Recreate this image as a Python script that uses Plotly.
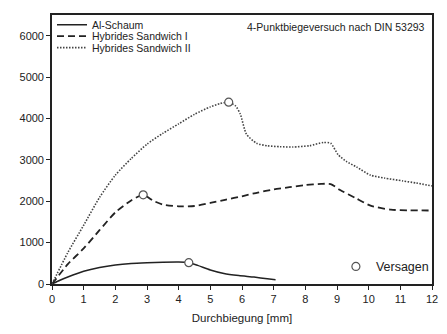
import plotly.graph_objects as go

# Al-Schaum (solid)
x_al = [0, 0.25, 0.5, 1.0, 1.5, 2.0, 2.5, 3.0, 3.5, 4.0, 4.32, 4.6, 5.0, 5.43, 5.9, 6.38, 6.8, 7.06]
y_al = [0, 90, 170, 310, 400, 460, 495, 512, 525, 530, 515, 450, 340, 255, 205, 167, 125, 103]

# Hybrides Sandwich I (dashed)
x_s1 = [0, 0.5, 1.0, 1.5, 2.0, 2.5, 2.88, 3.2, 3.5, 4.0, 4.5, 5.0, 5.5, 6.0, 6.5, 7.0, 7.5, 8.0, 8.5, 8.8, 9.1, 9.6, 10.06, 10.7, 11.3, 12.0]
y_s1 = [0, 480, 860, 1300, 1730, 2020, 2154, 2010, 1920, 1878, 1885, 1960, 2040, 2120, 2210, 2285, 2340, 2390, 2420, 2415, 2270, 2070, 1893, 1795, 1780, 1775]

# Hybrides Sandwich II (dotted)
x_s2 = [0, 0.5, 1.0, 1.5, 2.0, 2.5, 3.0, 3.5, 4.0, 4.5, 5.0, 5.3, 5.58, 5.8, 5.95, 6.14, 6.46, 6.8, 7.2, 7.6, 8.14, 8.57, 8.8, 9.04, 9.3, 9.62, 10.06, 10.5, 11.08, 11.5, 12.0]
y_s2 = [0, 760, 1420, 2090, 2630, 3030, 3380, 3640, 3870, 4100, 4280, 4360, 4394, 4300, 4100, 3620, 3400, 3340, 3318, 3310, 3342, 3420, 3400, 3120, 2960, 2826, 2630, 2560, 2490, 2440, 2370]

# Failure points (Versagen)
fail_x = [4.32, 2.88, 5.58]
fail_y = [515, 2154, 4394]

x_ticks = list(range(0, 13))
y_ticks = [0, 1000, 2000, 3000, 4000, 5000, 6000]

font_family = "Arial, Liberation Sans, sans-serif"
dark = "#222222"

fig = go.Figure()
fig.add_trace(go.Scatter(x=x_al, y=y_al, mode="lines", name="Al-Schaum", legend="legend",
                         line=dict(color=dark, width=1.5, shape="spline", smoothing=0.6)))
fig.add_trace(go.Scatter(x=x_s1, y=y_s1, mode="lines", name="Hybrides Sandwich I", legend="legend3",
                         line=dict(color=dark, width=1.8, dash="7px,4px", shape="spline", smoothing=0.6)))
fig.add_trace(go.Scatter(x=x_s2, y=y_s2, mode="lines", name="Hybrides Sandwich II", legend="legend4",
                         line=dict(color="#444444", width=1.6, dash="1.5px,1.5px", shape="spline", smoothing=0.6)))
fig.add_trace(go.Scatter(x=fail_x, y=fail_y, mode="markers", name="Versagen",
                         legend="legend2",
                         marker=dict(symbol="circle", size=8, color="white",
                                     line=dict(color="#555555", width=1.2))))

leg_font = dict(size=10.5, color="#222222")
fig.update_layout(
    width=439, height=326,
    margin=dict(l=44, r=15, t=2, b=50),
    paper_bgcolor="white", plot_bgcolor="white",
    font=dict(family=font_family, size=11, color="#222222"),
    showlegend=True,
    legend=dict(x=0.0, y=1.018, xanchor="left", yanchor="top",
                bgcolor="rgba(0,0,0,0)", font=leg_font),
    legend3=dict(x=0.0, y=0.9755, xanchor="left", yanchor="top",
                 bgcolor="rgba(0,0,0,0)", font=leg_font),
    legend4=dict(x=0.0, y=0.9328, xanchor="left", yanchor="top",
                 bgcolor="rgba(0,0,0,0)", font=leg_font),
    legend2=dict(x=1.005, y=0.008, xanchor="right", yanchor="bottom",
                 bgcolor="rgba(0,0,0,0)", font=dict(size=12.5, color="#222222")),
    xaxis=dict(range=[0, 12], tickvals=x_ticks, ticktext=[str(v) for v in x_ticks],
               ticks="outside", ticklen=4, tickcolor=dark, tickwidth=1.2,
               showline=True, linecolor=dark, linewidth=1.6, mirror=True,
               showgrid=False, zeroline=False, tickfont=dict(size=11),
               title=dict(text="Durchbiegung [mm]", font=dict(size=11.5), standoff=10)),
    yaxis=dict(range=[0, 6500], tickvals=y_ticks, ticktext=[str(v) for v in y_ticks],
               ticks="outside", ticklen=4, tickcolor=dark, tickwidth=1.2,
               showline=True, linecolor=dark, linewidth=1.6, mirror=True,
               showgrid=False, zeroline=False, tickfont=dict(size=11)),
    annotations=[dict(text="4-Punktbiegeversuch nach DIN 53293", xref="paper", yref="paper",
                      x=0.987, y=0.985, xanchor="right", yanchor="top", showarrow=False,
                      font=dict(size=10.5, color="#222222"))],
)

fig.write_html("out.html")
